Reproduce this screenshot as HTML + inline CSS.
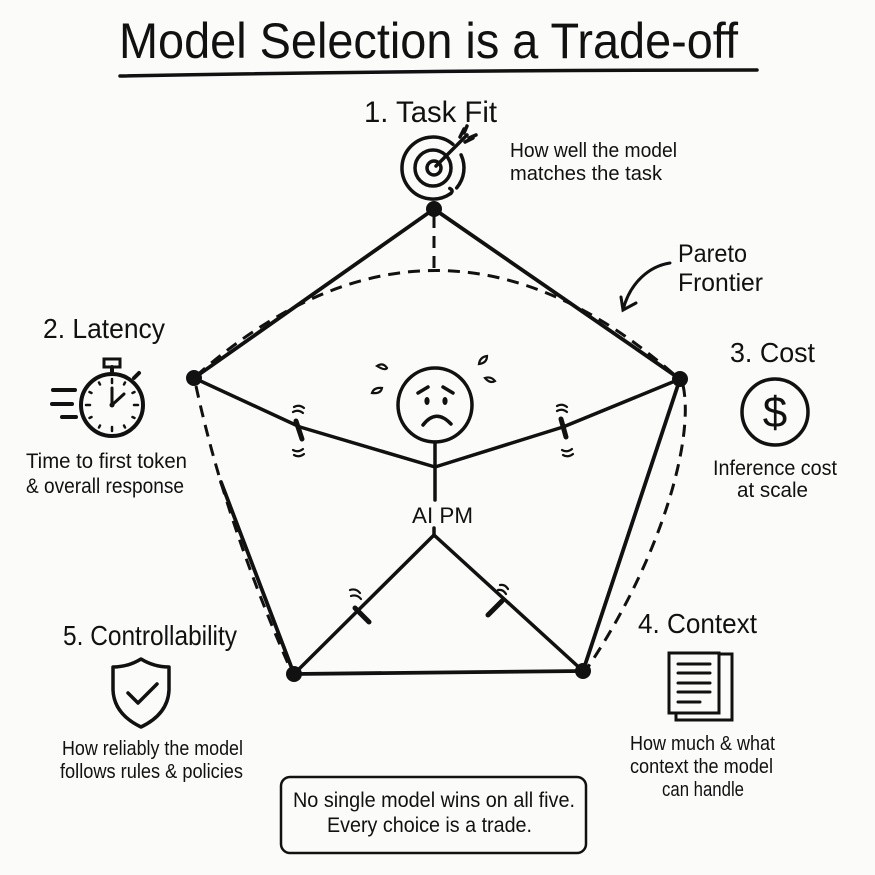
<!DOCTYPE html>
<html>
<head>
<meta charset="utf-8">
<style>
html,body{margin:0;padding:0;background:#fbfbf9;}
svg{display:block;}
text{font-family:"Liberation Sans","DejaVu Sans",sans-serif;fill:#111;}
</style>
</head>
<body>
<svg width="875" height="875" viewBox="0 0 875 875" xmlns="http://www.w3.org/2000/svg">
<rect width="875" height="875" fill="#fbfbf9"/>

<!-- Title -->
<text x="119" y="58" font-size="50" textLength="619" lengthAdjust="spacingAndGlyphs">Model Selection is a Trade-off</text>
<path d="M120,76 Q440,70 757,70" stroke="#111" stroke-width="3.5" fill="none" stroke-linecap="round"/>

<!-- 1. Task Fit -->
<text x="364" y="122" font-size="30" textLength="133" lengthAdjust="spacingAndGlyphs">1. Task Fit</text>
<g stroke="#111" fill="none" stroke-width="3.5" stroke-linecap="round">
  <path d="M452.9,144.3 A31,31 0 1 0 450.8,193.4"/>
  <path d="M461.1,154.9 A31,31 0 0 1 456.7,187.9"/>
  <path d="M450.8,193.4 q3,-3 -1,-5"/>
  <circle cx="433" cy="168" r="18"/>
  <circle cx="434" cy="168" r="7"/>
  <line x1="436" y1="166" x2="467" y2="135"/>
  <path d="M460,137 l4,-8 M465,142 l8,-4 M464,133 l3,-7 M469,138 l7,-3"/>
</g>
<text x="510" y="157" font-size="20" textLength="167" lengthAdjust="spacingAndGlyphs">How well the model</text>
<text x="510" y="180" font-size="20" textLength="152" lengthAdjust="spacingAndGlyphs">matches the task</text>

<!-- Pareto Frontier -->
<text x="678" y="262" font-size="25" textLength="69" lengthAdjust="spacingAndGlyphs">Pareto</text>
<text x="678" y="291" font-size="25" textLength="85" lengthAdjust="spacingAndGlyphs">Frontier</text>
<g stroke="#111" fill="none" stroke-width="3" stroke-linecap="round">
  <path d="M670,263 C650,266 630,282 623,310"/>
  <path d="M621,297 L623,310 L636,303"/>
</g>

<!-- Pareto dashed curves -->
<g stroke="#111" fill="none" stroke-width="3" stroke-dasharray="12,8">
  <path d="M196,376 Q437,164 678,378"/>
  <line x1="434" y1="216" x2="434" y2="273"/>
  <path d="M683,385 C695,440 660,560 588,667"/>
  <path d="M196,386 Q225,520 290,668"/>
</g>

<!-- Pentagon solid lines -->
<g stroke="#111" fill="none" stroke-width="3.8" stroke-linecap="round">
  <line x1="434" y1="209" x2="194" y2="378"/>
  <line x1="434" y1="209" x2="680" y2="379"/>
  <line x1="680" y1="379" x2="583" y2="671"/>
  <line x1="294" y1="674" x2="583" y2="671"/>
  <line x1="221" y1="482" x2="294" y2="674"/>
</g>

<!-- Stick figure -->
<g stroke="#111" fill="none" stroke-width="3.5" stroke-linecap="round" stroke-linejoin="round">
  <circle cx="435" cy="405" r="37"/>
  <line x1="435" y1="442" x2="435" y2="500"/>
  <path d="M194,378 L300,427 L435,467 L563,427 L680,379"/>
  <line x1="434" y1="528" x2="434" y2="536"/>
  <path d="M294,674 L434,535 L583,671"/>
  <line x1="296" y1="421" x2="302" y2="439" stroke-width="5"/>
  <line x1="561" y1="419" x2="566" y2="437" stroke-width="5"/>
  <line x1="355" y1="608" x2="369" y2="622" stroke-width="5"/>
  <line x1="488" y1="615" x2="502" y2="601" stroke-width="5"/>
  <path d="M418,393 L428,387"/>
  <path d="M443,387 L453,393"/>
  <path d="M423,425 Q436,408 451,424"/>
</g>
<g fill="#111">
  <ellipse cx="427" cy="401" rx="2.6" ry="4"/>
  <ellipse cx="445" cy="401" rx="2.6" ry="4"/>
</g>
<g stroke="#111" fill="none" stroke-width="2.2" stroke-linecap="round">
  <path d="M294,407 q5,-3 10,1"/>
  <path d="M293,412 q5,-3 10,1"/>
  <path d="M293,450 q5,3 10,-1"/>
  <path d="M294,455 q5,3 10,-1"/>
  <path d="M557,406 q5,-3 10,1"/>
  <path d="M557,411 q5,-3 10,1"/>
  <path d="M562,450 q5,3 10,-1"/>
  <path d="M563,455 q5,3 10,-1"/>
  <path d="M350,590 q6,-2 10,3"/>
  <path d="M351,596 q6,-2 10,3"/>
  <path d="M500,585 q5,-1 8,4"/>
  <path d="M498,590 q5,-1 8,4"/>
  <path d="M377,366 q6,-4 10,2 q-2,3 -10,-2 z"/>
  <path d="M372,393 q2,-6 10,-5 q-1,6 -10,5 z"/>
  <path d="M479,364 q1,-7 8,-8 q0,7 -8,8 z"/>
  <path d="M485,378 q6,-2 10,3 q-5,3 -10,-3 z"/>
</g>
<text x="412" y="523" font-size="22" textLength="61" lengthAdjust="spacingAndGlyphs">AI PM</text>

<!-- Nodes -->
<g fill="#111">
  <circle cx="434" cy="209" r="8"/>
  <circle cx="194" cy="378" r="8"/>
  <circle cx="680" cy="379" r="8"/>
  <circle cx="294" cy="674" r="8"/>
  <circle cx="583" cy="671" r="8"/>
</g>

<!-- 2. Latency -->
<text x="43" y="338" font-size="28" textLength="122" lengthAdjust="spacingAndGlyphs">2. Latency</text>
<g stroke="#111" fill="none" stroke-width="4" stroke-linecap="round">
  <circle cx="112" cy="405" r="31"/>
  <line x1="112" y1="374" x2="112" y2="367"/>
  <rect x="104" y="359" width="16" height="8" stroke-width="3"/>
  <line x1="134" y1="378" x2="139" y2="373"/>
  <line x1="53" y1="390" x2="75" y2="390"/>
  <line x1="52" y1="404" x2="72" y2="404"/>
  <line x1="62" y1="417" x2="76" y2="417"/>
  <line x1="112" y1="405" x2="112" y2="388" stroke-width="3"/>
  <line x1="112" y1="405" x2="124" y2="394" stroke-width="3"/>
</g>
<g stroke="#111" stroke-width="2.5" stroke-linecap="round">
  <line x1="112" y1="379" x2="112" y2="383"/>
  <line x1="112" y1="427" x2="112" y2="431"/>
  <line x1="86" y1="405" x2="90" y2="405"/>
  <line x1="134" y1="405" x2="138" y2="405"/>
  <line x1="125" y1="382.5" x2="124" y2="384.5"/>
  <line x1="134.5" y1="392" x2="132.5" y2="393"/>
  <line x1="134.5" y1="418" x2="132.5" y2="417"/>
  <line x1="125" y1="427.5" x2="124" y2="425.5"/>
  <line x1="99" y1="427.5" x2="100" y2="425.5"/>
  <line x1="89.5" y1="418" x2="91.5" y2="417"/>
  <line x1="89.5" y1="392" x2="91.5" y2="393"/>
  <line x1="99" y1="382.5" x2="100" y2="384.5"/>
</g>
<circle cx="112" cy="405" r="2.5" fill="#111"/>
<text x="26" y="468" font-size="21" textLength="161" lengthAdjust="spacingAndGlyphs">Time to first token</text>
<text x="26" y="493" font-size="21" textLength="158" lengthAdjust="spacingAndGlyphs">&amp; overall response</text>

<!-- 3. Cost -->
<text x="730" y="362" font-size="28" textLength="85" lengthAdjust="spacingAndGlyphs">3. Cost</text>
<circle cx="775" cy="412" r="33" stroke="#111" stroke-width="3.5" fill="none"/>
<text x="775" y="427" font-size="44" text-anchor="middle">$</text>
<text x="713" y="475" font-size="21" textLength="124" lengthAdjust="spacingAndGlyphs">Inference cost</text>
<text x="737" y="497" font-size="21" textLength="71" lengthAdjust="spacingAndGlyphs">at scale</text>

<!-- 5. Controllability -->
<text x="63" y="645" font-size="28" textLength="174" lengthAdjust="spacingAndGlyphs">5. Controllability</text>
<g stroke="#111" fill="none" stroke-width="3.5" stroke-linecap="round" stroke-linejoin="round">
  <path d="M141,659 Q128,667 113,667 L113,690 Q114,714 141,727 Q168,714 169,690 L169,667 Q154,667 141,659 Z"/>
  <path d="M128,693 L138,703 L157,684"/>
</g>
<text x="62" y="755" font-size="20" textLength="181" lengthAdjust="spacingAndGlyphs">How reliably the model</text>
<text x="60" y="778" font-size="20" textLength="183" lengthAdjust="spacingAndGlyphs">follows rules &amp; policies</text>

<!-- 4. Context -->
<text x="638" y="633" font-size="28" textLength="119" lengthAdjust="spacingAndGlyphs">4. Context</text>
<g stroke="#111" stroke-width="3" stroke-linecap="round">
  <rect x="676" y="654" width="56" height="66" fill="none"/>
  <rect x="669" y="653" width="50" height="60" fill="#fbfbf9"/>
  <line x1="678" y1="664" x2="710" y2="664"/>
  <line x1="678" y1="673" x2="710" y2="673"/>
  <line x1="678" y1="683" x2="710" y2="683"/>
  <line x1="678" y1="692" x2="710" y2="692"/>
  <line x1="678" y1="702" x2="700" y2="702"/>
</g>
<text x="630" y="750" font-size="20" textLength="145" lengthAdjust="spacingAndGlyphs">How much &amp; what</text>
<text x="630" y="773" font-size="20" textLength="143" lengthAdjust="spacingAndGlyphs">context the model</text>
<text x="662" y="796" font-size="20" textLength="82" lengthAdjust="spacingAndGlyphs">can handle</text>

<!-- Bottom box -->
<rect x="281" y="777" width="305" height="76" rx="9" stroke="#111" stroke-width="2.5" fill="none"/>
<text x="293" y="807" font-size="21" textLength="282" lengthAdjust="spacingAndGlyphs">No single model wins on all five.</text>
<text x="327" y="832" font-size="21" textLength="205" lengthAdjust="spacingAndGlyphs">Every choice is a trade.</text>
</svg>
</body>
</html>
